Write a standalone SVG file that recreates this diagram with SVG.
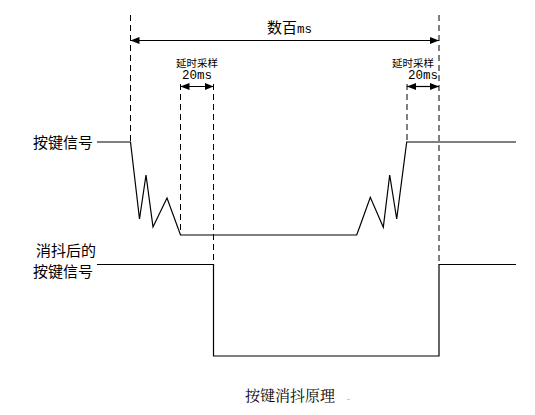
<svg xmlns="http://www.w3.org/2000/svg" width="535" height="415" viewBox="0 0 535 415">
  <defs>
    <marker id="ah" viewBox="0 0 10 10" refX="10" refY="5" markerWidth="9" markerHeight="9" markerUnits="userSpaceOnUse" orient="auto-start-reverse">
      <path d="M0,1 L10,5 L0,9 Z" fill="#000"/>
    </marker>
    <style>
      .dash { stroke: #000; stroke-width: 1; stroke-dasharray: 6 4; fill: none; }
      .sig { stroke: #000; stroke-width: 1.2; fill: none; }
      .dim { stroke: #000; stroke-width: 1.2; fill: none; marker-start: url(#ah); marker-end: url(#ah); }
      .lbl { font-family: "Noto Sans CJK SC", "Liberation Sans", sans-serif; font-size: 15px; fill: #000; }
      .sm { font-family: "Noto Sans CJK SC", "Liberation Sans", sans-serif; font-size: 10.5px; fill: #000; }
      .num { font-family: "Liberation Mono", "Noto Sans CJK SC", monospace; font-size: 12.5px; fill: #000; }
      .cap { font-family: "Noto Serif CJK SC", "Noto Sans CJK SC", serif; font-size: 15px; fill: #000; }
    </style>
  </defs>

  <!-- timing guides -->
  <g id="guides">
    <line class="dash" x1="130.5" y1="15" x2="130.5" y2="142"/>
    <line class="dash" x1="180.5" y1="84" x2="180.5" y2="235"/>
    <line class="dash" x1="213.5" y1="84" x2="213.5" y2="264"/>
    <line class="dash" x1="407" y1="84" x2="407" y2="142"/>
    <line class="dash" x1="439" y1="15" x2="439" y2="264"/>
  </g>

  <!-- dimension arrows -->
  <g id="connectors">
    <line class="dim" x1="130.5" y1="40.5" x2="439" y2="40.5"/>
    <line class="dim" x1="180.5" y1="86.5" x2="213.5" y2="86.5"/>
    <line class="dim" x1="407" y1="86.5" x2="439" y2="86.5"/>
  </g>

  <g id="span-label">
    <text class="lbl" x="267" y="33">数百<tspan class="num" font-size="13">ms</tspan></text>
  </g>
  <g id="delay-left">
    <text class="sm" x="197" y="67" text-anchor="middle">延时采样</text>
    <text class="num" x="197" y="79" text-anchor="middle">20ms</text>
  </g>
  <g id="delay-right">
    <text class="sm" x="413" y="67" text-anchor="middle">延时采样</text>
    <text class="num" x="423" y="79" text-anchor="middle">20ms</text>
  </g>

  <!-- raw key signal with bounce -->
  <g id="raw-signal">
    <text class="lbl" x="33" y="148">按键信号</text>
    <polyline class="sig" points="97,142 130.5,142 139.5,219 146,175 153,227 167,198 180.5,235 356.7,235 360,226 370.3,197.3 383.3,227.3 389.7,175 396.7,219 406.7,142 516,142"/>
  </g>

  <!-- debounced signal -->
  <g id="clean-signal">
    <text class="lbl" x="36" y="256" font-size="14.5">消抖后的</text>
    <text class="lbl" x="33" y="277" font-size="14.5">按键信号</text>
    <polyline class="sig" points="97,264.5 213.5,264.5 213.5,356 439,356 439,264.5 516,264.5"/>
  </g>

  <g id="caption">
    <text class="cap" x="245" y="401">按键消抖原理</text>
    <rect x="347" y="399" width="3" height="1" fill="#c8c8c8"/>
  </g>
</svg>
